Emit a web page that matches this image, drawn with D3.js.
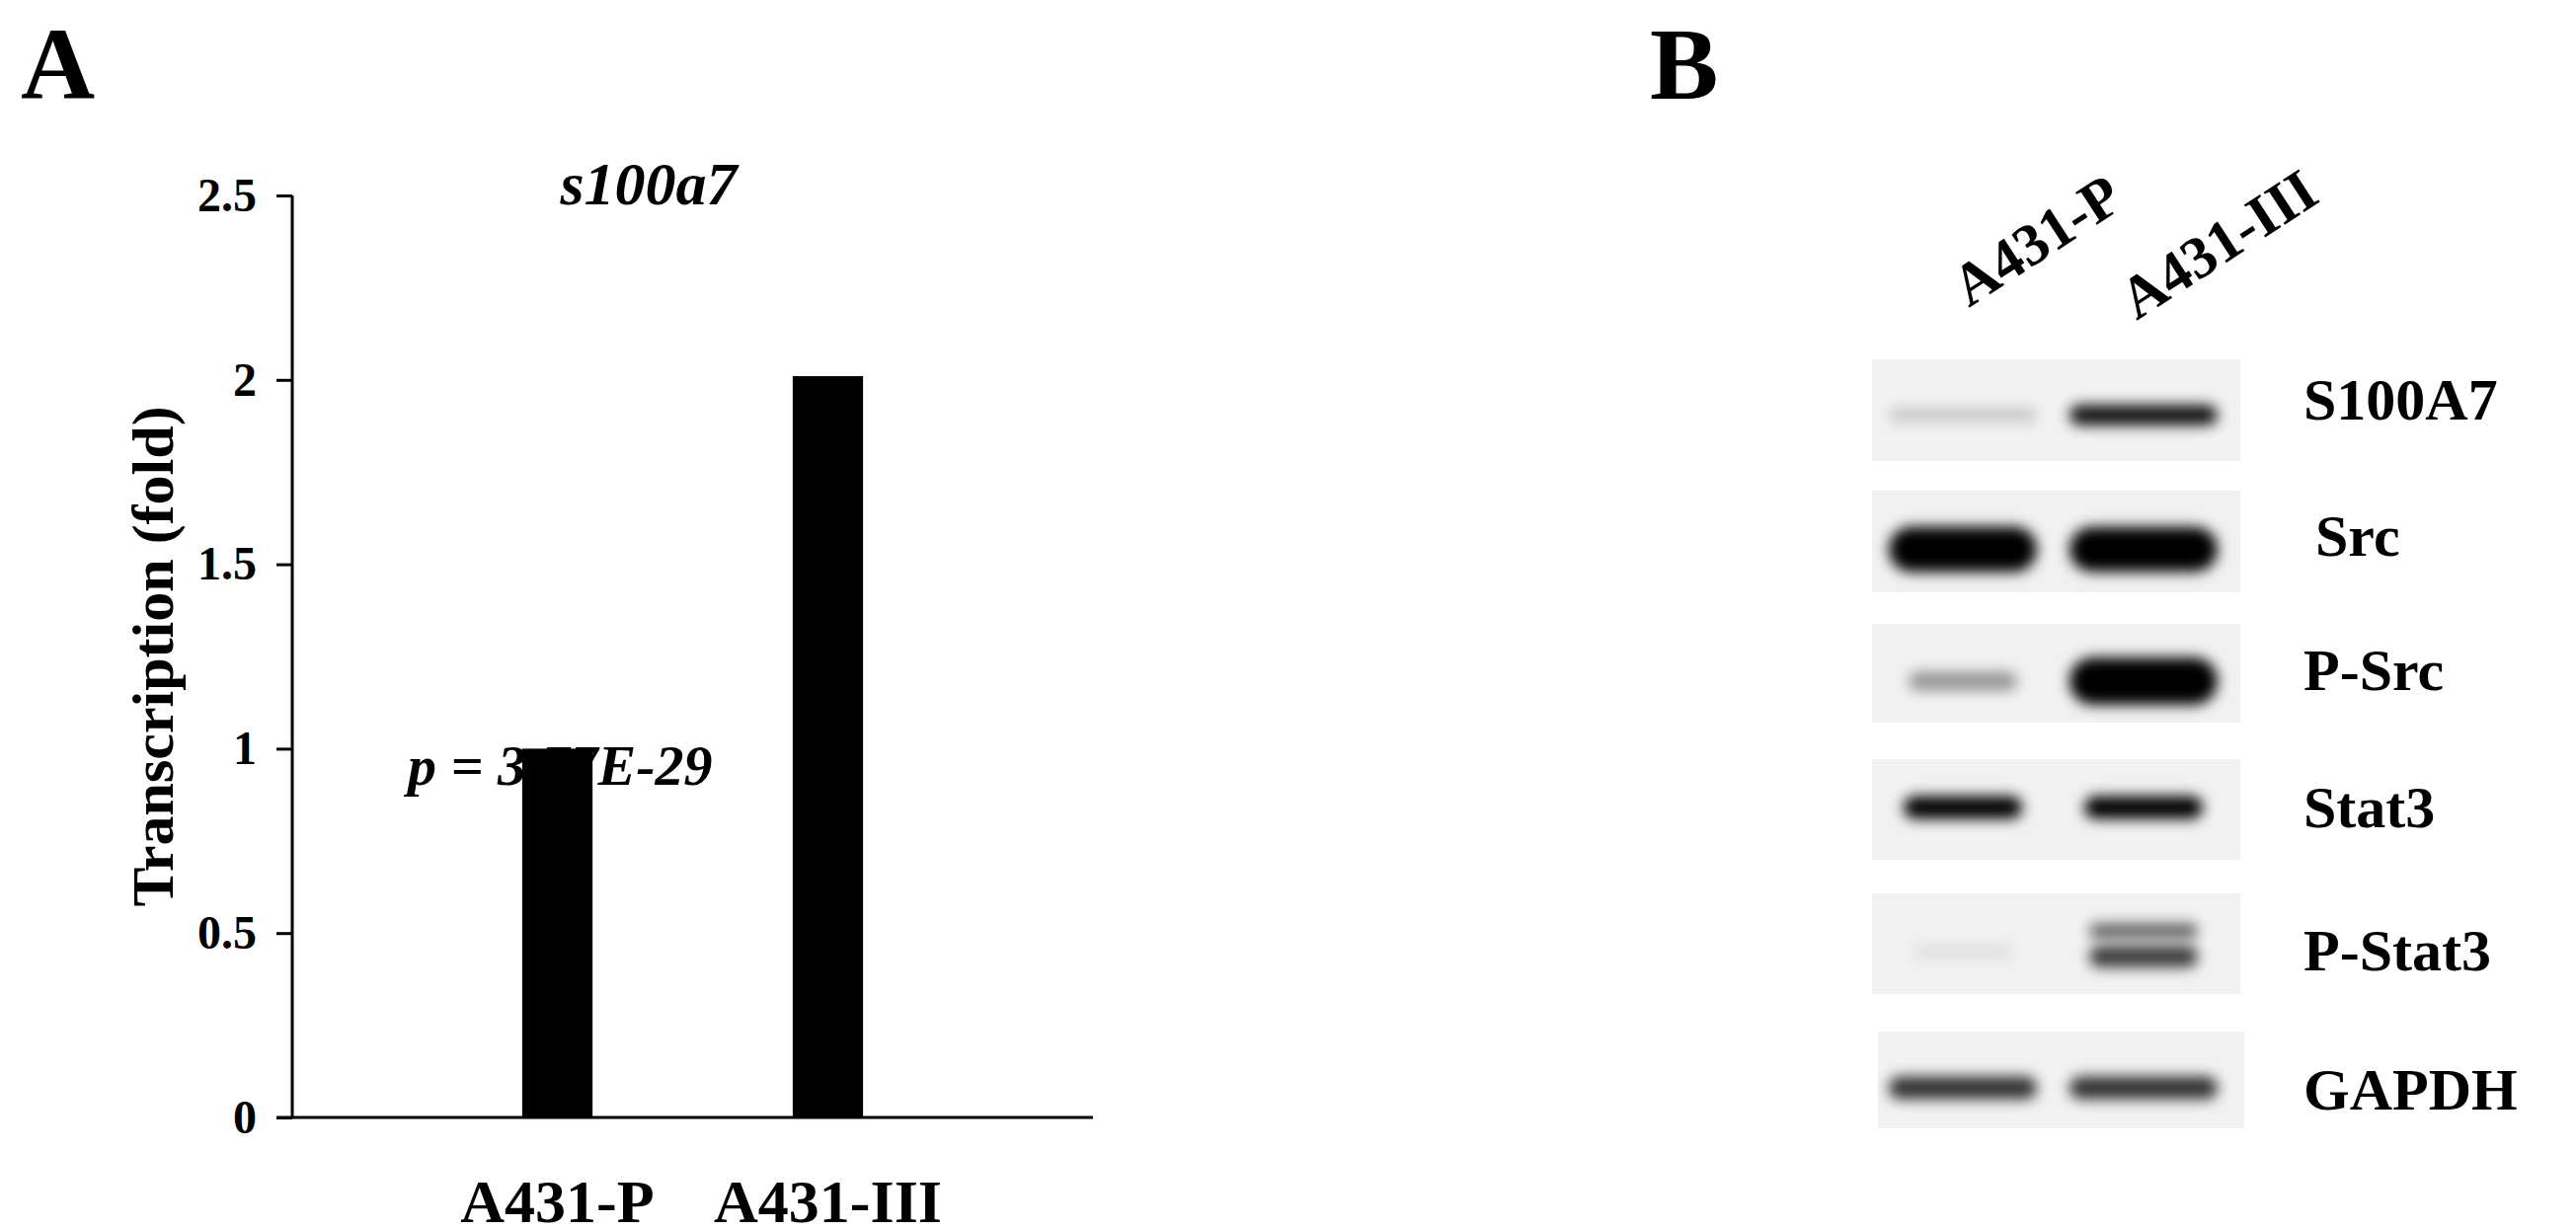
<!DOCTYPE html><html><head><meta charset="utf-8">
<script src="https://cdn.jsdelivr.net/npm/d3@7"></script>
<style>body{margin:0;background:#fff}text{font-family:"Liberation Serif","Times New Roman",serif;font-weight:bold}</style>
</head><body><svg id="c" width="2609" height="1245"></svg>
<script>
const categories=["A431-P","A431-III"];
const values=[1.0,2.01];
const yTicks=[0,0.5,1,1.5,2,2.5];
const yTickLabels=["0","0.5","1","1.5","2","2.5"];
const blotNames=["S100A7","Src","P-Src","Stat3","P-Stat3","GAPDH"];
const laneP=[0.15,1.0,0.35,0.92,0.07,0.72];
const laneIII=[0.85,0.97,1.0,0.92,0.75,0.72];

const svg=d3.select("#c");
svg.append("text").attr("x",21).attr("y",100).attr("font-size",104).text("A");
svg.append("text").attr("x",1671).attr("y",100).attr("font-size",104).text("B");

// Panel A
const Y0=1132, YT=198;
const x=d3.scaleBand().domain(categories).range([296,1107]).paddingInner(0.74).paddingOuter(0.85);
const y=d3.scaleLinear().domain([0,2.5]).range([Y0,YT]);
const g=svg.append("g");
g.selectAll("rect.bar").data(values).join("rect").attr("class","bar")
 .attr("x",(d,i)=>x(categories[i])).attr("width",x.bandwidth())
 .attr("y",d=>y(d)).attr("height",d=>y(0)-y(d)).attr("fill","#000");
const ya=g.append("g").attr("transform","translate(296,0)")
 .call(d3.axisLeft(y).tickValues(yTicks).tickFormat((d,i)=>yTickLabels[i]).tickSize(16).tickPadding(20));
ya.selectAll("path,line").attr("stroke","#000").attr("stroke-width",3);
ya.select("path").attr("d",`M0,${YT}V${Y0}`);
ya.selectAll("text").attr("font-size",48).attr("fill","#000").attr("font-family","Liberation Serif").attr("font-weight","bold");
g.append("line").attr("x1",280).attr("x2",1107).attr("y1",Y0).attr("y2",Y0).attr("stroke","#000").attr("stroke-width",3);
g.selectAll("text.cat").data(categories).join("text").attr("class","cat")
 .attr("x",d=>x(d)+x.bandwidth()/2).attr("y",1238).attr("text-anchor","middle").attr("font-size",62).text(d=>d);
g.append("text").attr("x",657).attr("y",207).attr("text-anchor","middle").attr("font-size",62).attr("font-style","italic").text("s100a7");
g.append("text").attr("x",413).attr("y",795).attr("font-size",58).attr("font-style","italic").text("p = 3.77E-29");
g.append("text").attr("transform","translate(175,665) rotate(-90)").attr("text-anchor","middle").attr("font-size",60).text("Transcription (fold)");

// Panel B
const defs=svg.append("defs");
defs.append("filter").attr("id","blur").attr("x","-30%").attr("y","-100%").attr("width","160%").attr("height","300%")
 .append("feGaussianBlur").attr("stdDeviation",7);
const boxes=[[1896,2269,364,467],[1896,2269,497,600],[1896,2269,632,732],[1896,2269,769,871],[1896,2269,905,1007],[1902,2273,1045,1143]];
const laneX=d3.scalePoint().domain(categories).range([1988,2171]);
const bh=[22,46,26,24,20,26];
const bw=[150,150,110,120,100,150];
const b=svg.append("g");
blotNames.forEach((name,i)=>{
  const [x0,x1,y0,y1]=boxes[i];
  b.append("rect").attr("x",x0).attr("y",y0).attr("width",x1-x0).attr("height",y1-y0).attr("fill","#f1f1f1");
  const cy=(y0+y1)/2+(i===0?5:(i===3?-2:8));
  [laneP[i],laneIII[i]].forEach((v,j)=>{
    const cx=laneX(categories[j]);
    let w=bw[i], h=bh[i]*(0.6+0.4*v);
    if(i===2&&j===1){w=150;h=48;}
    if(i===4&&j===1){
      b.append("rect").attr("x",cx-w/2-5).attr("y",cy-28).attr("width",w+10).attr("height",14).attr("rx",7).attr("fill","#000").attr("opacity",v*0.85).attr("filter","url(#blur)");
      b.append("rect").attr("x",cx-w/2-5).attr("y",cy-6).attr("width",w+10).attr("height",22).attr("rx",10).attr("fill","#000").attr("opacity",v).attr("filter","url(#blur)");
      return;
    }
    b.append("rect").attr("x",cx-w/2).attr("y",cy-h/2).attr("width",w).attr("height",h).attr("rx",h/2)
     .attr("fill","#000").attr("opacity",Math.min(1,v*1.1)).attr("filter","url(#blur)");
  });
});
const labelY=[425,563,699,838,983,1124];
b.selectAll("text.bl").data(blotNames).join("text").attr("class","bl")
 .attr("x",(d,i)=>i===1?2345:2333).attr("y",(d,i)=>labelY[i]).attr("font-size",60).text(d=>d);
const topStart=[[1994,312],[2164,325]];
b.selectAll("text.lane").data(categories).join("text").attr("class","lane")
 .attr("transform",(d,i)=>`translate(${topStart[i][0]},${topStart[i][1]}) rotate(-33)`)
 .attr("font-size",60).text(d=>d);
</script></body></html>
